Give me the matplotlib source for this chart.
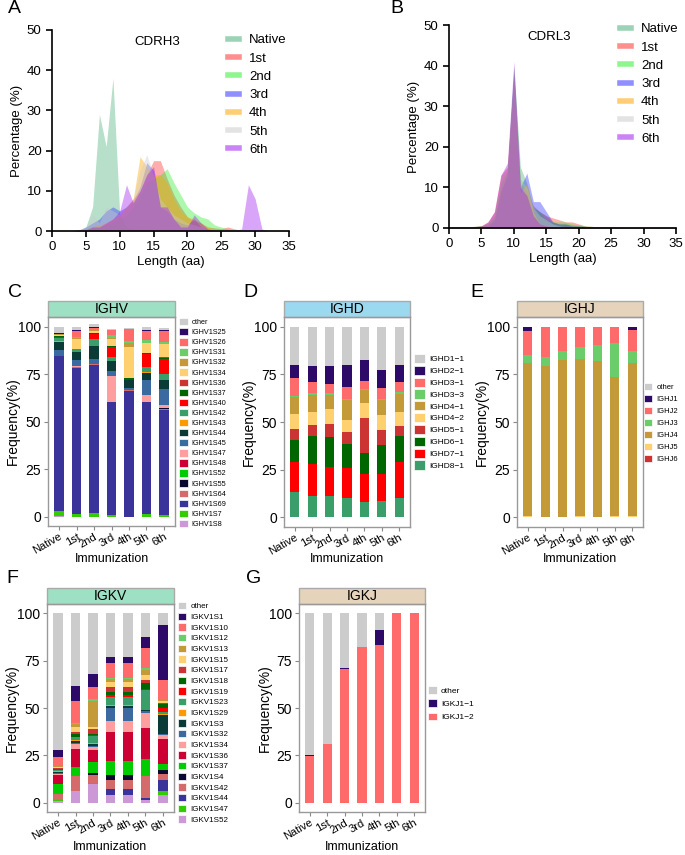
import numpy as np
import matplotlib
matplotlib.use('Agg')
import matplotlib.pyplot as plt
from matplotlib.patches import Patch, Rectangle
from matplotlib.lines import Line2D

plt.rcParams['font.family'] = ['Liberation Sans', 'DejaVu Sans']

# ---------------- data ----------------
rounds = ['Native', '1st', '2nd', '3rd', '4th', '5th', '6th']
lengths = np.arange(0, 36)

# CDRH3 length distribution (%), lengths 0..35
cdrh3 = {
    'Native': [0, 0, 0, 0, 0, 1, 6, 29, 21, 38, 4, 1, 0.5, 0.5, 0.4, 0.3, 0.3, 0.3, 0.2, 0.2,
               0.2, 0.1, 0.1, 0, 0, 0, 0, 0, 0, 0, 0, 0, 0, 0, 0, 0],
    '1st': [0.2, 0.2, 0.2, 0.2, 0.3, 0.5, 1, 1.5, 2, 3, 4, 6, 8, 10, 14, 17.5, 17.5, 13, 9, 6,
            3.5, 2.5, 2, 1, 0.8, 0.6, 1, 0.5, 0.2, 0.2, 0.2, 0.2, 0.2, 0.2, 0.2, 0.2],
    '2nd': [0.2, 0.2, 0.2, 0.2, 0.2, 0.5, 1, 1, 1.5, 2, 3, 4, 6, 9, 12, 13, 14, 15.5, 12, 9,
            6, 4.5, 3.5, 3, 1.5, 1, 0.5, 0.3, 0.2, 0.2, 0.2, 0.2, 0.2, 0.2, 0.2, 0.2],
    '3rd': [0, 0, 0, 0, 0.3, 1, 2, 3, 5, 6, 5, 6, 7.5, 11, 17, 15, 6, 5, 3, 2,
            1.5, 3, 1, 0.5, 0.2, 0.2, 0.2, 0.1, 0.1, 0.1, 0, 0, 0, 0, 0, 0],
    '4th': [0, 0, 0, 0, 0.2, 0.5, 1, 1.5, 2, 3, 4, 6, 8, 18.5, 16, 14, 14, 12, 8, 5,
            3.5, 3, 2, 1, 0.5, 0.3, 0.2, 0.1, 0.1, 0, 0, 0, 0, 0, 0, 0],
    '5th': [0, 0, 0, 0, 0.3, 1, 4, 2, 6, 5, 4, 6, 8, 15, 19, 14, 8, 6, 4, 3,
            2, 1.5, 1, 0.5, 0.3, 0.2, 0.1, 0, 0, 0, 0, 0, 0, 0, 0, 0],
    '6th': [0, 0, 0, 0, 0.2, 0.3, 1, 1, 2, 3, 5, 11.5, 7, 10, 14, 16, 6, 6, 3, 1,
            1, 4, 2, 0.5, 0.2, 0.2, 0.2, 0.2, 0.5, 11.5, 8, 0.5, 0, 0, 0, 0],
}

# CDRL3 length distribution (%), lengths 0..35
cdrl3 = {
    'Native': [0.3, 0.3, 0.3, 0.3, 0.4, 0.5, 1, 2.5, 10, 14, 40, 15, 11, 5, 4, 3, 1.5, 1, 1, 0.8,
               0.5, 0.4, 0.3, 0.3, 0.3, 0.3, 0.2, 0.2, 0.2, 0.2, 0.2, 0.2, 0.2, 0.2, 0.2, 0.2],
    '1st': [0.3, 0.3, 0.3, 0.3, 0.4, 0.6, 1.5, 4, 13, 15, 38, 11, 9, 5.5, 4, 3, 2.5, 2, 1.5, 1.5,
            1, 0.5, 0.4, 0.3, 0.3, 0.3, 0.2, 0.2, 0.2, 0.2, 0.2, 0.2, 0.2, 0.2, 0.2, 0.2],
    '2nd': [0.3, 0.3, 0.3, 0.3, 0.4, 0.5, 1, 3, 11, 14, 39, 12, 10, 5, 4, 2, 1.5, 1.5, 1.5, 1,
            0.8, 0.5, 0.4, 0.3, 0.3, 0.3, 0.2, 0.2, 0.2, 0.2, 0.2, 0.2, 0.2, 0.2, 0.2, 0.2],
    '3rd': [0.2, 0.2, 0.2, 0.2, 0.3, 0.4, 0.5, 2, 9, 13, 38, 10, 13.5, 6.5, 6.5, 4, 1.5, 1, 1, 0.5,
            0.5, 0.4, 0.3, 0.3, 0.2, 0.2, 0.2, 0.2, 0.2, 0.2, 0.2, 0.2, 0.2, 0.2, 0.2, 0.2],
    '4th': [0.2, 0.2, 0.2, 0.2, 0.3, 0.4, 1, 3, 12, 14, 37, 8.5, 11, 4, 1, 0.5, 0.3, 0.2, 0.2, 0.2,
            0.2, 0.2, 0.2, 0.2, 0.2, 0.2, 0.2, 0.2, 0.2, 0.2, 0.2, 0.2, 0.2, 0.2, 0.2, 0.2],
    '5th': [0.2, 0.2, 0.2, 0.2, 0.3, 0.4, 1, 3, 12, 14, 39, 12, 10, 5, 3, 2, 1, 0.5, 0.3, 0.3,
            0.2, 0.2, 0.2, 0.2, 0.2, 0.2, 0.2, 0.2, 0.2, 0.2, 0.2, 0.2, 0.2, 0.2, 0.2, 0.2],
    '6th': [0.2, 0.2, 0.2, 0.2, 0.3, 0.5, 1.5, 4, 13, 16, 41, 10, 8, 3, 1, 0.5, 0.3, 0.2, 0.2, 0.2,
            0.2, 0.2, 0.2, 0.2, 0.2, 0.2, 0.2, 0.2, 0.2, 0.2, 0.2, 0.2, 0.2, 0.2, 0.2, 0.2],
}
line_colors = ['#4CAF7A', '#FF3333', '#33EE33', '#3333FF', '#FFA500', '#CCCCCC', '#A020F0']

# shared gene palette (legend order)
palette = ['#CCCCCC', '#2D0A68', '#FF6B6B', '#6ACD6A', '#C49A38', '#FFD070', '#CC3333',
           '#006600', '#FF0000', '#3A9E6A', '#FF9900', '#0B3B36', '#3A6AA0', '#FF9E9E',
           '#CC0033', '#00CC00', '#0A0A30', '#D46A6A', '#3A3399', '#33CC00', '#CC99D6']

ighv_labels = ['other', 'IGHV1S25', 'IGHV1S26', 'IGHV1S31', 'IGHV1S32', 'IGHV1S34', 'IGHV1S36',
               'IGHV1S37', 'IGHV1S40', 'IGHV1S42', 'IGHV1S43', 'IGHV1S44', 'IGHV1S45', 'IGHV1S47',
               'IGHV1S48', 'IGHV1S52', 'IGHV1S55', 'IGHV1S64', 'IGHV1S69', 'IGHV1S7', 'IGHV1S8']
# one row per immunization, values in legend order
ighv_freq = [
    [3, 0.2, 0.5, 0, 0.3, 0.3, 0.4, 0.3, 0.3, 1.8, 0.3, 4.3, 3.2, 0, 0, 0, 0, 0.3, 81.5, 2.5, 0.3],
    [2, 0.3, 3, 0.5, 0.5, 5.3, 0, 0.3, 0, 1.4, 0, 4.2, 3, 0.8, 0, 0, 0, 0.3, 76.8, 1.5, 0],
    [1.8, 0.3, 1.2, 0, 0.5, 1, 0, 0.3, 3, 3.5, 0, 6.7, 3, 0, 0, 0, 0, 0.3, 78, 1.7, 0],
    [0.5, 0, 2.8, 1.5, 0.5, 3.5, 0.3, 0.5, 5, 2, 0, 5.6, 2.8, 13.2, 0.3, 0, 0, 0, 59.2, 1, 0],
    [0.7, 0, 6.2, 1, 2, 16.7, 0, 0.6, 0, 0, 0.4, 4.2, 1, 0, 0, 0, 0, 0.5, 66, 0, 0],
    [1.5, 0.4, 4.7, 1.4, 0, 5.5, 0, 0.3, 7, 2.6, 0.4, 4, 7.7, 3.7, 0, 0, 0.3, 0, 58.5, 1.5, 0],
    [1.2, 0.4, 5.5, 1.2, 0, 7.2, 0.4, 0.4, 7.8, 3, 0, 5, 8.6, 1.2, 0, 0, 0.5, 0.5, 55.7, 0.6, 0],
]

ighd_labels = ['IGHD1\u22121', 'IGHD2\u22121', 'IGHD3\u22121', 'IGHD3\u22123', 'IGHD4\u22121',
               'IGHD4\u22122', 'IGHD5\u22121', 'IGHD6\u22121', 'IGHD7\u22121', 'IGHD8\u22121']
ighd_freq = [
    [20, 7.1, 9.2, 0.5, 9.2, 7.5, 5.8, 11.5, 15.9, 13.3],
    [20.7, 8.1, 6.1, 0.9, 8.8, 7.1, 5.5, 15, 16.6, 11.2],
    [20.9, 9.2, 4.8, 0.9, 7.2, 8, 6.9, 15.9, 15, 11.2],
    [20.4, 11.1, 6.2, 0.7, 10.8, 6.2, 6.2, 12.7, 15.6, 10.1],
    [17.7, 10.6, 4.4, 0.4, 7.1, 7.6, 18.2, 11.3, 14.4, 8.3],
    [23, 9.4, 5.3, 0.9, 7.8, 7.6, 8, 15, 14.2, 8.8],
    [20, 8.8, 5.7, 0.9, 9.2, 7.6, 5, 14, 18.7, 10.1],
]

ighj_labels = ['other', 'IGHJ1', 'IGHJ2', 'IGHJ3', 'IGHJ4', 'IGHJ5', 'IGHJ6']
ighj_freq = [
    [0, 2.1, 12.6, 4.4, 80.1, 0.8, 0],
    [0, 0.5, 15.4, 4.8, 79, 0.3, 0],
    [0.2, 0.3, 12.2, 5, 82, 0.3, 0],
    [0, 0.5, 10.1, 6.6, 82, 0.8, 0],
    [0, 0, 9.7, 8.4, 81.4, 0.5, 0],
    [0, 0, 8.8, 17.4, 72.8, 0.7, 0.3],
    [0, 1.8, 10.9, 6.4, 80.1, 0.8, 0],
]

igkv_labels = ['other', 'IGKV1S1', 'IGKV1S10', 'IGKV1S12', 'IGKV1S13', 'IGKV1S15', 'IGKV1S17',
               'IGKV1S18', 'IGKV1S19', 'IGKV1S23', 'IGKV1S29', 'IGKV1S3', 'IGKV1S32', 'IGKV1S34',
               'IGKV1S36', 'IGKV1S37', 'IGKV1S4', 'IGKV1S42', 'IGKV1S44', 'IGKV1S47', 'IGKV1S52']
igkv_freq = [
    [72, 4, 4.5, 0.3, 0.3, 0.6, 0.3, 0.5, 0.3, 0.5, 0.3, 0.8, 0.4, 0.8, 4.5, 5.2, 0.3, 3.2, 0, 0.4, 0.8],
    [38.6, 7.9, 11.4, 0.8, 1.2, 2.8, 1.2, 1.3, 0.3, 1.4, 0.3, 1.2, 0.5, 2.6, 9.8, 4.4, 0.3, 7.7, 0, 0.3, 6],
    [32.2, 6.7, 6.5, 0.8, 13.7, 1.3, 2.6, 0.5, 0.5, 3.7, 0.3, 1.5, 0.3, 1.5, 6.7, 5.6, 0.9, 4.4, 0, 0.3, 10],
    [23, 3, 7.9, 0.9, 1.2, 2.8, 2.5, 1.8, 1, 4.2, 0.5, 1.2, 7, 5.8, 15.3, 7.5, 2.3, 4.7, 3.2, 0.3, 3.9],
    [23, 3, 7.9, 0.9, 1.2, 2.8, 2.5, 1.8, 1, 4.2, 0.5, 1.2, 7, 5.8, 15.3, 7.5, 2.3, 4.7, 3.2, 0.3, 3.9],
    [12.3, 6.1, 10.5, 0.9, 2.5, 2.8, 1.8, 3, 0.4, 10.5, 0.4, 0.4, 1, 8.2, 16.3, 8.6, 0.5, 11.4, 0.9, 0.3, 1.2],
    [6, 29.1, 10.5, 0.3, 0.4, 1.1, 0.7, 1.9, 2.1, 0.9, 0.9, 9.6, 0.9, 1.8, 13.2, 3.5, 2.1, 3.2, 5.6, 2.3, 3.9],
]

igkj_labels = ['other', 'IGKJ1\u22121', 'IGKJ1\u22122']
igkj_freq = [
    [74.7, 0.8, 24.5],
    [69, 0, 31],
    [29, 0.5, 70.5],
    [17.5, 0, 82.5],
    [8.5, 8, 83.5],
    [0, 0, 100],
    [0, 0, 100],
]

# ---------------- figure ----------------
W, H = 685, 855
fig = plt.figure(figsize=(W / 100, H / 100), dpi=100)


def rect(l, t, r, b):
    return [l / W, 1 - b / H, (r - l) / W, (b - t) / H]


def fig_xy(x, y):
    return x / W, 1 - y / H


def length_panel(box, dist, title, leg_xy):
    ax = fig.add_axes(rect(*box))
    for (name, vals), c in zip(dist.items(), line_colors):
        ax.fill_between(lengths, vals, 0, color=c, alpha=0.4, lw=0)
    ax.set_xlim(0, 35)
    ax.set_ylim(0, 50)
    ax.set_xticks(range(0, 36, 5))
    ax.set_yticks(range(0, 51, 10))
    for s in ['top', 'right']:
        ax.spines[s].set_visible(False)
    for s in ['left', 'bottom']:
        ax.spines[s].set_linewidth(1.2)
    ax.tick_params(labelsize=9.5, width=1.2, length=4)
    ax.set_xlabel('Length (aa)', fontsize=9.5, labelpad=2)
    ax.set_ylabel('Percentage (%)', fontsize=9.5, labelpad=3)
    ax.text(15.5, 47, title, fontsize=9.5, ha='center', va='center')
    handles = [Line2D([], [], color=c, alpha=0.55, lw=4) for c in line_colors]
    ax.legend(handles, list(dist.keys()), loc='upper left', bbox_to_anchor=fig_xy(*leg_xy),
              bbox_transform=fig.transFigure, frameon=False, fontsize=9.5,
              handlelength=0.8, handletextpad=0.8, labelspacing=0.46, borderpad=0,
              borderaxespad=0)
    return ax


def bar_panel(box, labels, freq, title, strip_color, leg, fs, hh, ls, ylab_x, xlab_y):
    ax = fig.add_axes(rect(*box))
    vals = np.array(freq).T  # rows = genes (legend order)
    x = np.arange(len(rounds))
    bottom = np.zeros(len(rounds))
    for i in range(len(labels) - 1, -1, -1):
        ax.bar(x, vals[i], 0.52, bottom=bottom, color=palette[i], lw=0)
        bottom = bottom + vals[i]
    ax.set_xlim(-0.63, 6.63)
    ax.set_ylim(-5, 105)
    ax.set_yticks([0, 25, 50, 75, 100])
    ax.set_xticks(x)
    ax.set_xticklabels(rounds, rotation=30, ha='right', rotation_mode='anchor', fontsize=8)
    for s in ax.spines.values():
        s.set_color('#999999')
        s.set_linewidth(1.0)
    ax.tick_params(axis='both', color='#888888', length=3, width=0.8)
    ax.tick_params(axis='y', labelsize=10, pad=2)
    ax.tick_params(axis='x', pad=1)
    cy = (box[1] + box[3]) / 2
    fig.text(*fig_xy(ylab_x, cy), 'Frequency(%)', rotation=90, fontsize=10,
             ha='center', va='center')
    fig.text(*fig_xy((box[0] + box[2]) / 2, xlab_y), 'Immunization', fontsize=9,
             ha='center', va='center')
    # facet strip
    sh = 16 / (box[3] - box[1])
    ax.add_patch(Rectangle((0, 1), 1, sh, transform=ax.transAxes, clip_on=False,
                           facecolor=strip_color, edgecolor='#AAAAAA', lw=1.0))
    ax.text(0.5, 1 + sh / 2, title, transform=ax.transAxes, ha='center', va='center',
            fontsize=10)
    handles = [Patch(facecolor=palette[i], edgecolor='white', lw=0.5) for i in range(len(labels))]
    ax.legend(handles, labels, loc='upper left', bbox_to_anchor=fig_xy(*leg),
              bbox_transform=fig.transFigure, frameon=False, fontsize=fs,
              handlelength=hh, handleheight=hh, handletextpad=0.5, labelspacing=ls,
              borderpad=0, borderaxespad=0)
    return ax


length_panel((52, 30, 289, 231), cdrh3, 'CDRH3', (228, 34))
length_panel((449, 25, 676, 228), cdrl3, 'CDRL3', (620, 23))

bar_panel((48, 317, 175, 526), ighv_labels, ighv_freq, 'IGHV', '#9EE0C3', (179, 318),
          5.2, 1.2, 0.27, 13, 559)
bar_panel((284, 317, 410, 527), ighd_labels, ighd_freq, 'IGHD', '#9AD9EF', (414, 354),
          6.0, 1.3, 0.3, 249, 559)
bar_panel((517, 317, 643, 527), ighj_labels, ighj_freq, 'IGHJ', '#E5D3BC', (644, 383),
          5.5, 1.1, 0.48, 482, 559)
bar_panel((47, 604, 174, 812), igkv_labels, igkv_freq, 'IGKV', '#9EE0C3', (178, 602),
          5.8, 1.05, 0.27, 12, 847)
bar_panel((299, 604, 425, 812), igkj_labels, igkj_freq, 'IGKJ', '#E5D3BC', (428, 686),
          6.0, 1.05, 0.55, 265, 847)

for letter, (px, py) in zip('ABCDEFG', [(8, 0), (390, 0), (8, 284), (243, 284), (470, 284),
                                        (6, 570), (246, 570)]):
    fig.text(*fig_xy(px, py), letter, fontsize=14, va='top', ha='left')

fig.savefig('out.png', dpi=100)
